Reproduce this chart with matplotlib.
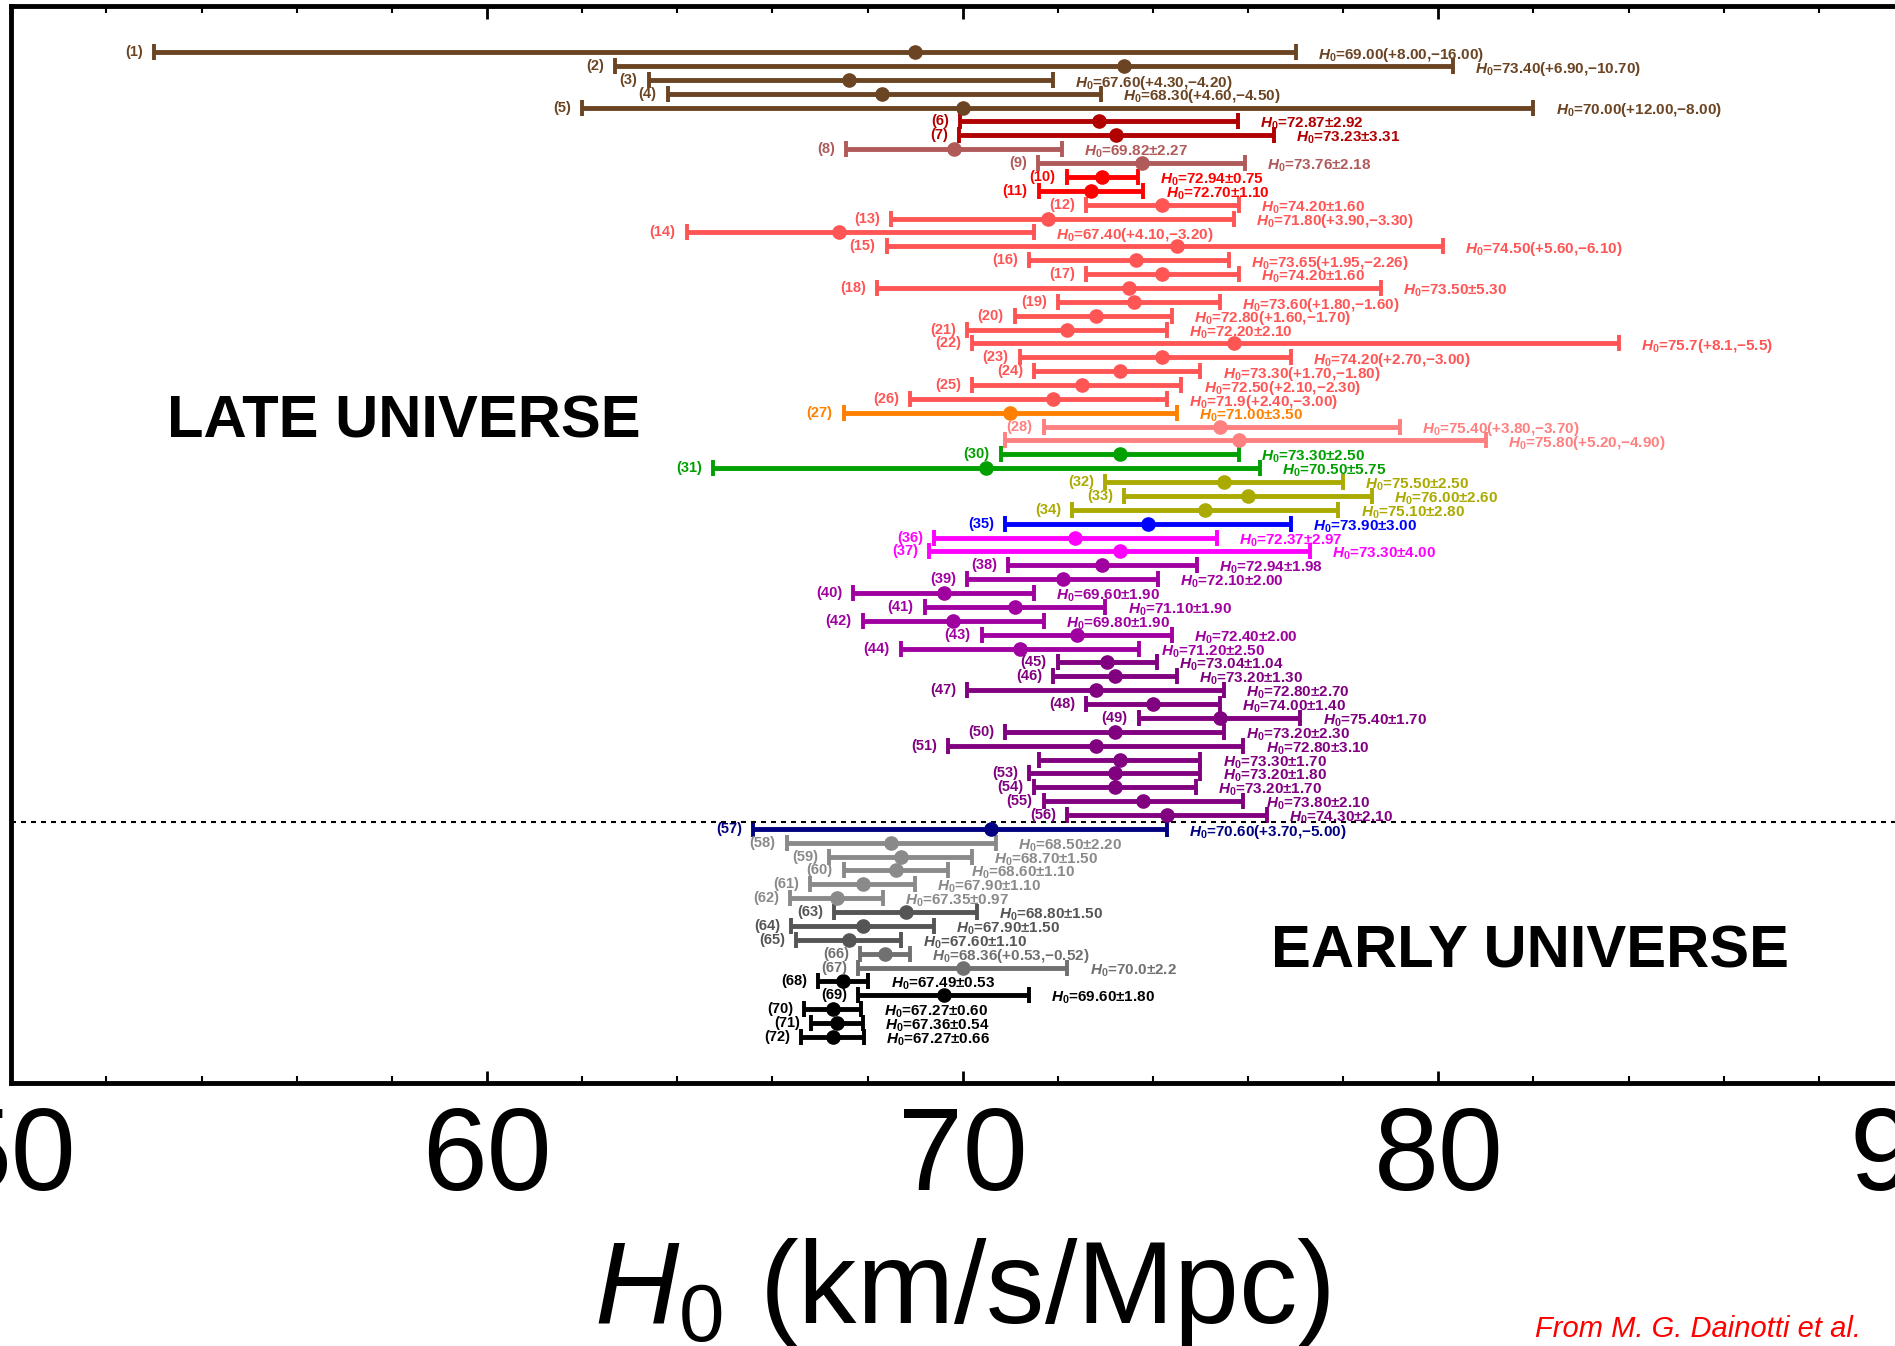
import matplotlib
matplotlib.use("Agg")
import matplotlib.pyplot as plt
import numpy as np

plt.rcParams['font.family'] = ['Liberation Sans', 'DejaVu Sans']
plt.rcParams['mathtext.fontset'] = 'custom'
plt.rcParams['mathtext.rm'] = 'Liberation Sans'
plt.rcParams['mathtext.it'] = 'Liberation Sans:italic'
plt.rcParams['mathtext.bf'] = 'Liberation Sans:bold'
plt.rcParams['mathtext.bfit'] = 'Liberation Sans:bold:italic'

# H0 measurements, top to bottom; empty err_dn means a symmetric error
h0 = ['69.00', '73.40', '67.60', '68.30', '70.00', '72.87', '73.23', '69.82', '73.76', '72.94',
      '72.70', '74.20', '71.80', '67.40', '74.50', '73.65', '74.20', '73.50', '73.60', '72.80',
      '72.20', '75.7', '74.20', '73.30', '72.50', '71.9', '71.00', '75.40', '75.80', '73.30',
      '70.50', '75.50', '76.00', '75.10', '73.90', '72.37', '73.30', '72.94', '72.10', '69.60',
      '71.10', '69.80', '72.40', '71.20', '73.04', '73.20', '72.80', '74.00', '75.40', '73.20',
      '72.80', '73.30', '73.20', '73.20', '73.80', '74.30', '70.60', '68.50', '68.70', '68.60',
      '67.90', '67.35', '68.80', '67.90', '67.60', '68.36', '70.0', '67.49', '69.60', '67.27',
      '67.36', '67.27']
err_up = ['8.00', '6.90', '4.30', '4.60', '12.00', '2.92', '3.31', '2.27', '2.18', '0.75',
          '1.10', '1.60', '3.90', '4.10', '5.60', '1.95', '1.60', '5.30', '1.80', '1.60',
          '2.10', '8.1', '2.70', '1.70', '2.10', '2.40', '3.50', '3.80', '5.20', '2.50',
          '5.75', '2.50', '2.60', '2.80', '3.00', '2.97', '4.00', '1.98', '2.00', '1.90',
          '1.90', '1.90', '2.00', '2.50', '1.04', '1.30', '2.70', '1.40', '1.70', '2.30',
          '3.10', '1.70', '1.80', '1.70', '2.10', '2.10', '3.70', '2.20', '1.50', '1.10',
          '1.10', '0.97', '1.50', '1.50', '1.10', '0.53', '2.2', '0.53', '1.80', '0.60',
          '0.54', '0.66']
err_dn = ['16.00', '10.70', '4.20', '4.50', '8.00', '', '', '', '', '',
          '', '', '3.30', '3.20', '6.10', '2.26', '', '', '1.60', '1.70',
          '', '5.5', '3.00', '1.80', '2.30', '3.00', '', '3.70', '4.90', '',
          '', '', '', '', '', '', '', '', '', '',
          '', '', '', '', '', '', '', '', '', '',
          '', '', '', '', '', '', '5.00', '', '', '',
          '', '', '', '', '', '0.52', '', '', '', '',
          '', '']
no_tag = [29, 52]

# colour groups (first row, last row, colour)
groups = [(1, 5, '#6B4423'), (6, 7, '#B00000'), (8, 9, '#B05A5A'), (10, 11, '#FF0000'),
          (12, 26, '#FF5555'), (27, 27, '#FF8000'), (28, 29, '#FF8080'), (30, 31, '#00A000'),
          (32, 34, '#AAAA00'), (35, 35, '#0000FF'), (36, 37, '#FF00FF'), (38, 44, '#A000A0'),
          (45, 56, '#800080'), (57, 57, '#000080'), (58, 62, '#8A8A8A'), (63, 65, '#555555'),
          (66, 67, '#707070'), (68, 72, '#000000')]

fig = plt.figure(figsize=(18.95, 13.46), dpi=100)
ax = fig.add_axes([0.006, 0.1954, 1.004, 0.8001])

for first, last, col in groups:
    for i in range(first, last + 1):
        k = i - 1
        c = float(h0[k])
        up = float(err_up[k])
        dn = float(err_dn[k]) if err_dn[k] else up
        ax.errorbar(c, i, xerr=[[dn], [up]], fmt='o', color=col, ms=9.5,
                    elinewidth=3.5, capsize=5.5, capthick=2.8)
        if i not in no_tag:
            ax.annotate('(%d)' % i, (c - dn, i), xytext=(-8, 0), textcoords='offset points',
                        ha='right', va='center', fontsize=10.5, fontweight='bold', color=col)
        if err_dn[k]:
            txt = '=%s(+%s,\u2212%s)' % (h0[k], err_up[k], err_dn[k])
        else:
            txt = '=%s\u00b1%s' % (h0[k], err_up[k])
        ax.annotate(r'$\mathbfit{H}_\mathbf{0}$' + txt, (c + up, i), xytext=(16, -2),
                    textcoords='offset points', ha='left', va='center',
                    fontsize=11, fontweight='bold', color=col)

ax.axhline(56.5, color='k', lw=1.5, ls=(0, (2.4, 2.4)))

ax.text(53.27, 27.7, 'LATE UNIVERSE', fontsize=43, fontweight='bold', ha='left', va='center')
ax.text(76.48, 65.85, 'EARLY UNIVERSE', fontsize=43, fontweight='bold', ha='left', va='center')

ax.set_xlim(50, 90)
ax.set_ylim(75.32, -2.32)
ax.set_xticks([50, 60, 70, 80, 90])
ax.set_xticks(np.arange(50, 91, 2), minor=True)
ax.set_yticks([])
ax.tick_params(axis='x', which='both', direction='in', top=True, bottom=True,
               labelsize=84, pad=16)
ax.tick_params(axis='x', which='major', length=9, width=2)
ax.tick_params(axis='x', which='minor', length=5, width=1.5)
for s in ax.spines.values():
    s.set_linewidth(3.5)
ax.set_xlabel(r'$\mathit{H}_\mathrm{0}$ (km/s/Mpc)', fontsize=84, labelpad=16)

fig.text(0.81, 0.007, 'From M. G. Dainotti et al.', color='red', fontsize=21,
         style='italic', ha='left')

fig.savefig('out.png', dpi=100)
